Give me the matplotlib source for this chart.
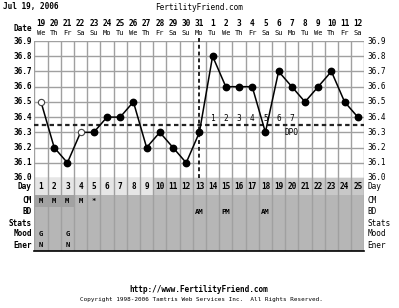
import numpy as np
import matplotlib.pyplot as plt
from matplotlib.patches import Rectangle

# chart data
days = list(range(1, 26))
dates = ['19', '20', '21', '22', '23', '24', '25', '26', '27', '28', '29', '30', '31',
         '1', '2', '3', '4', '5', '6', '7', '8', '9', '10', '11', '12']
weekdays = ['We', 'Th', 'Fr', 'Sa', 'Su', 'Mo', 'Tu', 'We', 'Th', 'Fr', 'Sa', 'Su', 'Mo',
            'Tu', 'We', 'Th', 'Fr', 'Sa', 'Su', 'Mo', 'Tu', 'We', 'Th', 'Fr', 'Sa']
temps = [36.5, 36.2, 36.1, 36.3, 36.3, 36.4, 36.4, 36.5, 36.2, 36.3, 36.2, 36.1, 36.3,
         36.8, 36.6, 36.6, 36.6, 36.3, 36.7, 36.6, 36.5, 36.6, 36.7, 36.5, 36.4]
open_days = [1, 4]  # discarded / questionable temps
temp_ticks = [36.0, 36.1, 36.2, 36.3, 36.4, 36.5, 36.6, 36.7, 36.8, 36.9]
coverline = 36.35
ovulation_day = 13
dpo_labels = ['1', '2', '3', '4', '5', '6', '7']
row_names = ['Day', 'CM', 'BD', 'Stats', 'Mood', 'Ener']
cm_marks = {1: 'M', 2: 'M', 3: 'M', 4: 'M', 5: '*'}
bd_marks = {13: 'AM', 15: 'PM', 18: 'AM'}
mood_marks = {1: 'G', 3: 'G'}
ener_marks = {1: 'N', 3: 'N'}

W, H = 399, 308
fig = plt.figure(figsize=(W / 100, H / 100), dpi=100)
fig.patch.set_facecolor('white')
mono = 'DejaVu Sans Mono'
fs = 5.6
grid_c = '#a0a0a0'


def px_axes(x0, y0, x1, y1):
    # place an axes by pixel box (top-left origin)
    return fig.add_axes([x0 / W, 1 - y1 / H, (x1 - x0) / W, (y1 - y0) / H])


# ---- temperature chart ----
ax = px_axes(34.4, 41, 364.4, 178)
ax.set_xlim(0.5, 25.5)
ax.set_ylim(36.0, 36.9)
ax.axis('off')

for t in temp_ticks:
    ax.axhline(t, color=grid_c, lw=1, zorder=1)
for i in range(26):
    ax.axvline(0.5 + i, color=grid_c, lw=1, zorder=1)

for t in temp_ticks:
    ax.text(0.3, t, '%.1f' % t, ha='right', va='center', fontsize=fs,
            family=mono, fontweight='bold')
    ax.text(25.75, t, '%.1f' % t, ha='left', va='center', fontsize=fs,
            family=mono)

# header: date / weekday
ax.text(0.3, 36.98, 'Date', ha='right', va='center', fontsize=fs,
        family=mono, fontweight='bold')
for d, dt, wd in zip(days, dates, weekdays):
    ax.text(d, 37.012, dt, ha='center', va='center', fontsize=fs,
            family=mono, fontweight='bold', clip_on=False)
    ax.text(d, 36.953, wd, ha='center', va='center', fontsize=5,
            family=mono, clip_on=False)

# coverline & ovulation line
ax.plot([0.5, 25.5], [coverline, coverline], color='#222222', lw=1.6,
        ls=(0, (2, 1.5)), zorder=3)
ax.plot([ovulation_day, ovulation_day], [36.0, 36.92], color='#222222', lw=1.4,
        ls=(0, (2, 1.5)), zorder=3, clip_on=False)

# dpo numbers
for k, lab in enumerate(dpo_labels):
    ax.text(ovulation_day + 1 + k, 36.39, lab, ha='center', va='center',
            fontsize=fs, family=mono, zorder=2)
ax.text(ovulation_day + len(dpo_labels), 36.30, 'DPO', ha='center', va='center',
        fontsize=fs, family=mono, zorder=2)

# temperature line
ax.plot(days, temps, color='black', lw=1.1, zorder=4)
filled = [d for d in days if d not in open_days]
ax.plot(filled, [temps[d - 1] for d in filled], 'o', color='black', ms=4.6, zorder=5)
ax.plot(open_days, [temps[d - 1] for d in open_days], 'o', mfc='white',
        mec='#444444', mew=0.8, ms=4.5, zorder=5)

# ---- bottom table ----
tab = px_axes(34.4, 178, 364.4, 251)
row_edges = [0, 17, 28.5, 39.5, 50.5, 61.5, 73]
tab.set_xlim(0.5, 25.5)
tab.set_ylim(73, 0)
tab.axis('off')

# day row background
for d in days:
    c = '#e6e6e6' if d <= 9 else '#c8c8c8'
    tab.add_patch(Rectangle((d - 0.5, row_edges[0]), 1, row_edges[1] - row_edges[0],
                            color=c, lw=0, zorder=0))
tab.add_patch(Rectangle((0.5, row_edges[1]), 25, row_edges[-1] - row_edges[1],
                        color='#b6b6b6', lw=0, zorder=0))
for d in [1, 2, 3]:
    tab.add_patch(Rectangle((d - 0.5, row_edges[1]), 1, row_edges[2] - row_edges[1],
                            color='#a2a2a2', lw=0, zorder=0))
for i in range(26):
    tab.axvline(0.5 + i, color=grid_c, lw=1, zorder=1)
tab.plot([0.5, 25.5], [72.5, 72.5], color='black', lw=1.2, clip_on=False, zorder=2)

mids = [(row_edges[i] + row_edges[i + 1]) / 2 for i in range(len(row_names))]
for name, y in zip(row_names, mids):
    tab.text(0.3, y, name, ha='right', va='center', fontsize=fs, family=mono,
             fontweight='bold')
    tab.text(25.75, y, name, ha='left', va='center', fontsize=fs, family=mono)

for d in days:
    tab.text(d, mids[0], str(d), ha='center', va='center', fontsize=fs,
             family=mono, fontweight='bold', zorder=3)
for marks, y in [(cm_marks, mids[1]), (bd_marks, mids[2]),
                 (mood_marks, mids[4]), (ener_marks, mids[5])]:
    for d, m in marks.items():
        tab.text(d, y, m, ha='center', va='center', fontsize=5.2, family=mono,
                 fontweight='bold', zorder=3)

# titles & footer
fig.text(3 / W, 1 - 7 / H, 'Jul 19, 2006', ha='left', va='center', fontsize=fs,
         family=mono, fontweight='bold')
fig.text(199 / W, 1 - 7 / H, 'FertilityFriend.com', ha='center', va='center',
         fontsize=fs, family=mono)
fig.text(199 / W, 1 - 289 / H, 'http://www.FertilityFriend.com', ha='center',
         va='center', fontsize=fs, family=mono, fontweight='bold')
fig.text(201 / W, 1 - 300 / H,
         'Copyright 1998-2006 Tamtris Web Services Inc.  All Rights Reserved.',
         ha='center', va='center', fontsize=4.3, family=mono)

fig.savefig('out.png', dpi=100, facecolor='white')
